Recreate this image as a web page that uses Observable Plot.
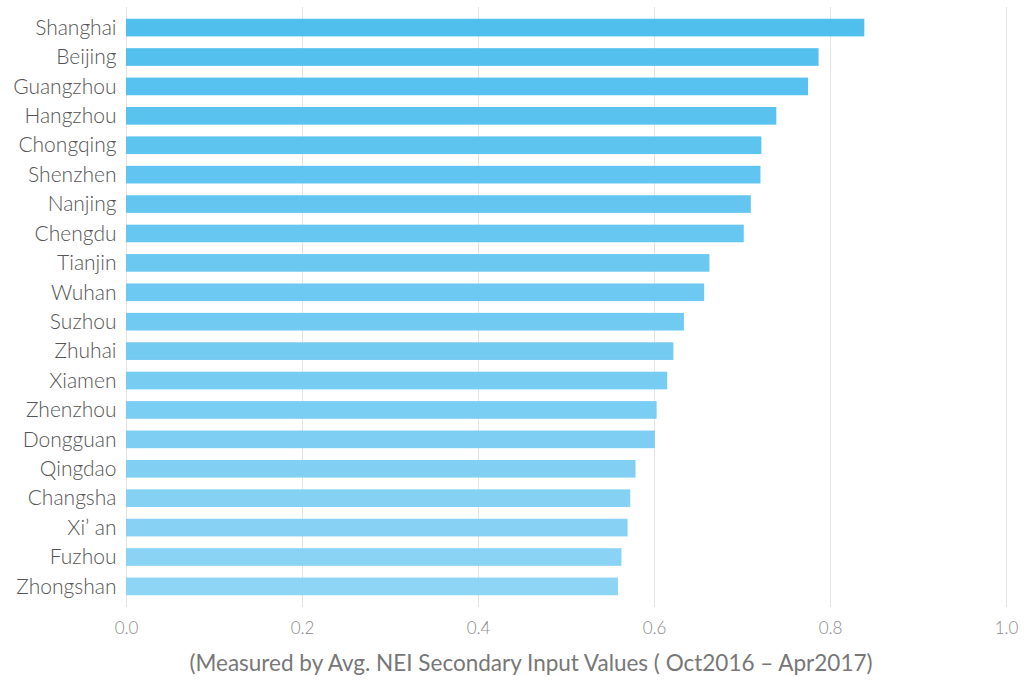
<!DOCTYPE html>
<html>
<head>
<meta charset="utf-8">
<script src="https://cdn.jsdelivr.net/npm/d3@7"></script>
<script src="https://cdn.jsdelivr.net/npm/@observablehq/plot@0.6"></script>
<style>
  html, body { margin: 0; padding: 0; background: #fff; }
  #chart { width: 1024px; }
  #xlabel { width: 1024px; text-align: center; font-family: Lato, "Open Sans", sans-serif; font-size: 22.5px; color: #777; padding-left: 38px; box-sizing: border-box; margin-top: 4px; }
</style>
</head>
<body>
<div id="chart"></div>
<div id="xlabel">(Measured by Avg. NEI Secondary Input Values ( Oct2016 – Apr2017)</div>
<script>
const cities = ["Shanghai","Beijing","Guangzhou","Hangzhou","Chongqing","Shenzhen","Nanjing","Chengdu","Tianjin","Wuhan","Suzhou","Zhuhai","Xiamen","Zhenzhou","Dongguan","Qingdao","Changsha","Xi’ an","Fuzhou","Zhongshan"];
const values = [0.839,0.787,0.775,0.739,0.722,0.721,0.710,0.702,0.663,0.657,0.634,0.622,0.615,0.603,0.601,0.579,0.573,0.570,0.563,0.559];
const xTicks = [0,0.2,0.4,0.6,0.8,1.0];

const data = cities.map((c, i) => ({city: c, value: values[i], rank: i}));

const chart = Plot.plot({
  width: 1024,
  height: 645,
  marginTop: 7,
  marginBottom: 38,
  marginLeft: 126,
  marginRight: 18,
  style: { fontFamily: "Lato, 'Open Sans', sans-serif", background: "#fff" },
  x: { domain: [0, 1], ticks: xTicks, tickFormat: d3.format(".1f") },
  y: { domain: cities, padding: 0.4, round: false },
  color: { type: "linear", domain: [0, cities.length - 1], range: ["#50bfee", "#8ed4f5"] },
  marks: [
    Plot.gridX(xTicks, { stroke: "#e3e3e3", strokeOpacity: 1, strokeWidth: 1 }),
    Plot.barX(data, { x: "value", y: "city", fill: "rank" }),
    Plot.axisX({ ticks: xTicks, tickFormat: d3.format(".1f"), tickSize: 0, tickPadding: 14, fontSize: 17, fill: "#8a8a8a", label: null, fontWeight: 300 }),
    Plot.axisY({ tickSize: 0, tickPadding: 10, fontSize: 21, fill: "#555", label: null, fontWeight: 300 })
  ]
});
document.getElementById("chart").appendChild(chart);
</script>
</body>
</html>
